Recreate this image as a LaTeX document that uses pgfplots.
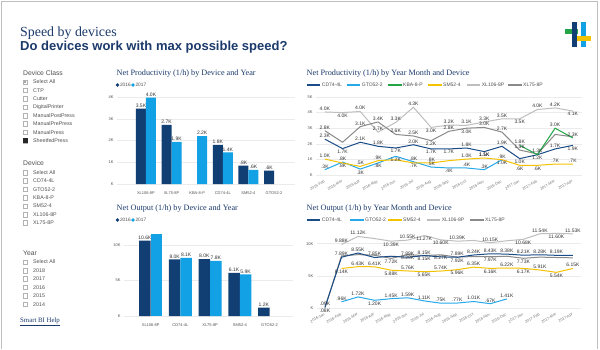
\documentclass[border=0pt]{standalone}
\usepackage{fontspec}
\setmainfont{Liberation Sans}
\newfontfamily\seriff{Liberation Serif}
\usepackage{pgfplots}
\usepackage{pgfplotstable}
\pgfplotsset{compat=1.18}
\definecolor{navy}{HTML}{123F73}
\definecolor{lblue}{HTML}{11A1E4}
\definecolor{ttl}{HTML}{1B3A6B}
\definecolor{txt}{HTML}{505050}
\definecolor{cCD}{HTML}{1A4C88}
\definecolor{cGT}{HTML}{25A9E9}
\definecolor{cKB}{HTML}{22A447}
\definecolor{cSM}{HTML}{F5C200}
\definecolor{cXA}{HTML}{BEBEBE}
\definecolor{cXB}{HTML}{8A8A8A}
\definecolor{gridc}{HTML}{EBEBEB}
\pgfplotsset{
  dash/.style={scale only axis, anchor=south west,
    axis line style={draw=none}, tick style={draw=none},
    ymajorgrids, grid style={gridc, line width=0.5pt},
    tick label style={font=\fontsize{4}{4}\selectfont, text=txt},
    clip=false},
  lab/.style={nodes near coords, point meta=explicit symbolic,
    nodes near coords style={font=\fontsize{5}{5}\selectfont, text=black!80, inner sep=1pt}},
  lline/.style={line width=1pt, mark=none, lab,
    visualization depends on={value \thisrow{p}\as\lpos},
    every node near coord/.append style={anchor=\lpos}},
}
\begin{document}
\begin{tikzpicture}
\useasboundingbox (0,0) rectangle (600pt,-349pt);
\fill[white] (0,0) rectangle (600pt,-349pt);
\begin{scope}[x=1pt,y=-1pt]
\draw[black!25, line width=1pt] (1,349) -- (1,1) -- (597,1) -- (597,349);
% logo
\fill[cKB] (565,29) rectangle (578,33.5);
\fill[navy] (572,22) rectangle (577,47);
\fill[lblue] (581,22) rectangle (586,47);
\fill[cSM] (577,36) rectangle (591,40.5);
% titles
\node[anchor=base west, inner sep=0, font=\seriff\fontsize{13.9}{14}\selectfont, text=ttl] at (20,36.5) {Speed by devices};
\node[anchor=base west, inner sep=0, font=\bfseries\fontsize{13}{13}\selectfont, text=ttl] at (20,50.7) {Do devices work with max possible speed?};
% slicers
\node[anchor=west, inner sep=0, font=\fontsize{6.8}{7}\selectfont, text=txt] at (23,73) {Device Class};
\foreach \t [count=\i from 0] in {Select All,CTP,Cutter,DigitalPrinter,ManualPostPress,ManualPrePress,ManualPress,SheetfedPress} {
  \pgfmathsetmacro\yy{82+8.36*\i}
  \draw[black!30, line width=0.4pt] (23,\yy-2.3) rectangle (27.6,\yy+2.3);
  \node[anchor=west, inner sep=0, font=\fontsize{5.3}{5.5}\selectfont, text=txt] at (33,\yy) {\t};
}
\fill[black!85] (23,140.5-2.3) rectangle (27.6,140.5+2.3);
\fill[black!35] (24.2,80.8) rectangle (26.4,83.2);
\node[anchor=west, inner sep=0, font=\fontsize{6.8}{7}\selectfont, text=txt] at (23,163) {Device};
\foreach \t [count=\i from 0] in {Select All,CD74-4L,GTO52-2,KBA-8-P,SM52-4,XL106-8P,XL75-8P} {
  \pgfmathsetmacro\yy{172.5+8.4*\i}
  \draw[black!30, line width=0.4pt] (23,\yy-2.3) rectangle (27.6,\yy+2.3);
  \node[anchor=west, inner sep=0, font=\fontsize{5.3}{5.5}\selectfont, text=txt] at (33,\yy) {\t};
}
\node[anchor=west, inner sep=0, font=\fontsize{6.8}{7}\selectfont, text=txt] at (23,253) {Year};
\foreach \t [count=\i from 0] in {Select All,2018,2017,2016,2015,2014} {
  \pgfmathsetmacro\yy{262+8.45*\i}
  \draw[black!30, line width=0.4pt] (23,\yy-2.3) rectangle (27.6,\yy+2.3);
  \node[anchor=west, inner sep=0, font=\fontsize{5.3}{5.5}\selectfont, text=txt] at (33,\yy) {\t};
}
\node[anchor=west, inner sep=0, font=\seriff\fontsize{6.8}{7}\selectfont, text=ttl] at (20,322) {\underline{Smart BI Help}};
% chart titles
\node[anchor=base west, inner sep=0, font=\seriff\fontsize{8.2}{8.2}\selectfont, text=ttl] at (116.5,75.3) {Net Productivity (1/h) by Device and Year};
\node[anchor=base west, inner sep=0, font=\seriff\fontsize{8.2}{8.2}\selectfont, text=ttl] at (116.5,210.3) {Net Output (1/h) by Device and Year};
\node[anchor=base west, inner sep=0, font=\seriff\fontsize{8.2}{8.2}\selectfont, text=ttl] at (306.5,75.3) {Net Productivity (1/h) by Year Month and Device};
\node[anchor=base west, inner sep=0, font=\seriff\fontsize{8.2}{8.2}\selectfont, text=ttl] at (306.5,210.3) {Net Output (1/h) by Year Month and Device};
% bar legends
\foreach \yy in {85,220} {
  \fill[navy] (117.5,\yy) circle (1.9);
  \node[anchor=west, inner sep=0, font=\fontsize{4.8}{5}\selectfont, text=txt] at (119.8,\yy) {2016};
  \fill[lblue] (133,\yy) circle (1.9);
  \node[anchor=west, inner sep=0, font=\fontsize{4.8}{5}\selectfont, text=txt] at (135.3,\yy) {2017};
}
% line legends
\foreach \c/\a/\t in {cCD/306.7/CD74-4L, cGT/346.7/GTO52-2, cKB/388/KBA-8-P, cSM/428/SM52-4, cXA/466.7/XL106-8P, cXB/508/XL75-8P} {
  \draw[\c, line width=1.2pt] (\a,85) -- (\a+13.5,85);
  \node[anchor=west, inner sep=0, font=\fontsize{5}{5}\selectfont, text=txt] at (\a+15,85) {\t};
}
\foreach \c/\a/\t in {cCD/306.7/CD74-4L, cGT/350/GTO52-2, cSM/388/SM52-4, cXA/426.7/XL106-8P, cXB/470/XL75-8P} {
  \draw[\c, line width=1.2pt] (\a,220) -- (\a+13.5,220);
  \node[anchor=west, inner sep=0, font=\fontsize{5}{5}\selectfont, text=txt] at (\a+15,220) {\t};
}
\end{scope}

% Chart 1
\begin{axis}[dash, at={(117pt,-184pt)}, width=178pt, height=93.5pt,
  xmin=-1.13, xmax=5.82, ymin=0, ymax=4.3,
  ytick={0,1,2,3,4}, yticklabels={K,1K,2K,3K,4K},
  xtick={0,...,5}, xticklabels={XL106-8P,XL75-8P,KBA-8-P,CD74-4L,SM52-4,GTO52-2},
  ybar, bar width=10pt]
\addplot[fill=navy, draw=none, bar shift=-5pt, lab] coordinates {(0,3.47)[3.5K] (1,2.72)[2.7K] (3,1.8)[1.8K] (4,0.84)[.8K] (5,0.61)[.6K]};
\addplot[fill=lblue, draw=none, bar shift=5pt, lab] coordinates {(0,3.97)[4.0K] (1,1.94)[1.9K] (2,2.2)[2.2K] (3,1.45)[1.4K] (4,0.65)[.6K]};
\end{axis}

% Chart 2
\begin{axis}[dash, at={(124pt,-316pt)}, width=169pt, height=85.2pt,
  xmin=-0.9, xmax=4.79, ymin=0, ymax=12,
  ytick={0,5,10}, yticklabels={K,5K,10K},
  xtick={0,...,4}, xticklabels={XL106-8P,CD74-4L,XL75-8P,SM52-4,GTO52-2},
  ybar, bar width=11.5pt]
\addplot[fill=navy, draw=none, bar shift=-5.75pt, lab] coordinates {(0,10.6)[10.6K] (1,7.98)[8.0K] (2,8.02)[8.0K] (3,6.06)[6.1K] (4,1.17)[1.2K]};
\addplot[fill=lblue, draw=none, bar shift=5.75pt, lab] coordinates {(1,8.17)[8.1K] (2,7.75)[7.8K] (3,5.87)[5.9K]};
\addplot[fill=lblue, draw=none, bar shift=5.75pt] coordinates {(0,11.5)};
\end{axis}

% Chart 3
\begin{axis}[dash, at={(316pt,-175pt)}, width=265.7pt, height=82.7pt,
  xmin=-0.5, xmax=14.5, ymin=0, ymax=5.3,
  ytick={0,...,5}, yticklabels={K,1K,2K,3K,4K,5K},
  xtick={0,...,14}, xticklabels={2016-Feb,2016-Mar,2016-Apr,2016-May,2016-Jun,2016-Jul,2016-Aug,2016-Sep,2016-Oct,2016-Nov,2016-Dec,2017-Jan,2017-Feb,2017-Mar,2017-Apr},
  xticklabel style={rotate=30, anchor=north east, font=\fontsize{3.8}{4}\selectfont, text=black!55}]
\addplot[lline, color=cXA] table[meta=l] {
x y l p
0 4.04 4.0K 270
1 4.0 4.0K 90
2 4.07 4.0K 270
3 2.75 2.7K 270
4 3.37 3.3K 270
5 4.34 4.3K 270
6 3.05 3.0K 90
7 3.2 3.2K 270
8 3.18 3.1K 270
9 3.4 3.3K 270
10 3.6 3.5K 270
11 3.6 3.5K 90
12 4.2 4.0K 270
13 4.3 4.2K 270
14 4.1 4.1K 90
};
\addplot[lline, color=cXB] table[meta=l] {
x y l p
0 2.84 2.8K 270
1 2.1 {} 270
2 3.1 3.1K 270
3 3.4 3.4K 270
4 2.6 2.6K 270
5 2.5 2.5K 270
6 2.2 2.2K 90
7 2.8 2.8K 270
8 3.0 3.0K 90
9 3.05 3.0K 270
10 2.75 2.7K 270
11 1.6 1.5K 270
12 1.35 1.3K 270
13 2.6 {} 270
14 2.45 {} 270
};
\addplot[lline, color=cCD] table[meta=l] {
x y l p
0 2.3 2.3K 270
1 1.69 1.7K 90
2 2.1 2.1K 270
3 1.84 1.8K 270
4 1.73 1.7K 90
5 1.94 2.0K 270
6 1.67 1.7K 90
7 1.67 1.7K 90
8 1.73 1.8K 270
9 1.5 1.5K 90
10 1.84 1.9K 270
11 1.05 1.0K 90
12 1.3 {} 270
13 1.67 1.7K 270
14 1.9 1.9K 90
};
\addplot[lline, color=cGT] table[meta=l] {
x y l p
0 0.34 .3K 270
1 0.83 .8K 270
2 0.38 .3K 90
3 0.77 .8K 90
4 1.2 1.2K 90
5 0.85 .8K 270
6 0.51 .5K 270
7 0.45 .4K 90
8 0.45 .4K 270
9 0.34 .3K 270
10 0.98 1.0K 90
};
\addplot[lline, color=cSM] table[meta=l] {
x y l p
0 1.02 1.0K 270
1 0.77 .8K 90
2 0.55 .5K 270
3 0.92 .9K 270
4 0.98 {} 270
5 0.77 .7K 90
6 0.77 .8K 270
7 0.92 {} 270
8 1.02 1.0K 270
9 1.09 1.1K 270
10 0.98 .9K 270
11 0.62 .6K 90
12 0.62 .6K 90
13 0.7 .7K 270
14 0.7 .7K 270
};
\addplot[lline, color=cKB] table[meta=l] {
x y l p
11 1.9 1.8K 270
12 1.3 1.2K 90
13 3.0 3.0K 270
14 2.37 2.3K 270
};
\end{axis}

% Chart 4
\begin{axis}[dash, at={(316.7pt,-308pt)}, width=264.5pt, height=75.9pt,
  xmin=-0.5, xmax=15.5, ymin=0, ymax=11.8,
  ytick={0,5,10}, yticklabels={K,5K,10K},
  xtick={0,...,15}, xticklabels={2016-Jan,2016-Feb,2016-Mar,2016-Apr,2016-May,2016-Jun,2016-Jul,2016-Aug,2016-Sep,2016-Oct,2016-Nov,2016-Dec,2017-Jan,2017-Feb,2017-Mar,2017-Apr},
  xticklabel style={rotate=30, anchor=north east, font=\fontsize{3.8}{4}\selectfont, text=black!55},
  nodes near coords style={font=\fontsize{4.6}{5}\selectfont}]
\addplot[lline, color=cXA] table[meta=l] {
x y l p
1 9.88 9.88K 270
2 11.12 11.12K 270
3 10.8 {} 270
4 10.39 10.39K 90
5 10.55 10.55K 270
6 11.27 11.27K 90
7 10.60 10.60K 90
8 10.39 10.39K 270
9 10.5 {} 270
10 10.15 10.15K 270
11 10.45 {} 90
12 10.68 10.68K 90
13 11.54 11.54K 270
14 11.60 11.60K 90
15 11.53 11.53K 270
};
\addplot[lline, color=cXB] table[meta=l] {
x y l p
0 0.09 .09K 270
1 8.1 {} 90
2 8.3 {} 90
3 8.2 {} 90
4 7.72 7.72K 90
5 8.29 8.29K 90
6 8.15 8.15K 90
7 8.27 8.27K 90
8 7.92 7.92K 90
9 8.0 {} 90
10 7.97 7.97K 90
11 8.05 {} 90
12 7.73 7.73K 90
13 7.91 {} 90
14 7.85 {} 90
15 7.8 {} 90
};
\addplot[lline, color=cCD] table[meta=l] {
x y l p
0 0.08 .08K 90
1 7.89 7.89K 270
2 8.55 8.55K 270
3 7.85 7.85K 270
4 8.05 {} 270
5 7.89 7.89K 270
6 8.15 8.15K 270
7 7.95 {} 270
8 7.89 7.89K 270
9 8.24 8.24K 270
10 8.43 8.43K 270
11 8.38 8.38K 270
12 8.21 8.21K 270
13 8.28 8.28K 270
14 8.19 8.19K 270
15 8.2 {} 270
};
\addplot[lline, color=cSM] table[meta=l] {
x y l p
1 6.14 6.14K 90
2 6.43 6.43K 270
3 6.41 6.41K 270
4 5.88 5.88K 90
5 5.76 5.76K 270
6 5.65 5.65K 90
7 5.74 5.74K 270
8 5.96 5.96K 90
9 6.35 6.35K 270
10 6.16 6.16K 90
11 6.22 6.22K 270
12 6.17 6.17K 90
13 5.91 5.91K 270
14 5.54 5.54K 90
15 6.15 6.15K 270
};
\addplot[lline, color=cGT] table[meta=l] {
x y l p
1 0.96 .96K 270
2 1.72 1.72K 270
3 1.20 1.20K 90
4 1.45 1.45K 270
5 1.59 1.59K 270
6 1.11 1.11K 270
7 0.75 .75K 270
8 0.77 .77K 270
9 1.01 1.01K 270
10 0.67 .67K 270
11 1.41 1.41K 270
};
\end{axis}
\end{tikzpicture}
\end{document}
